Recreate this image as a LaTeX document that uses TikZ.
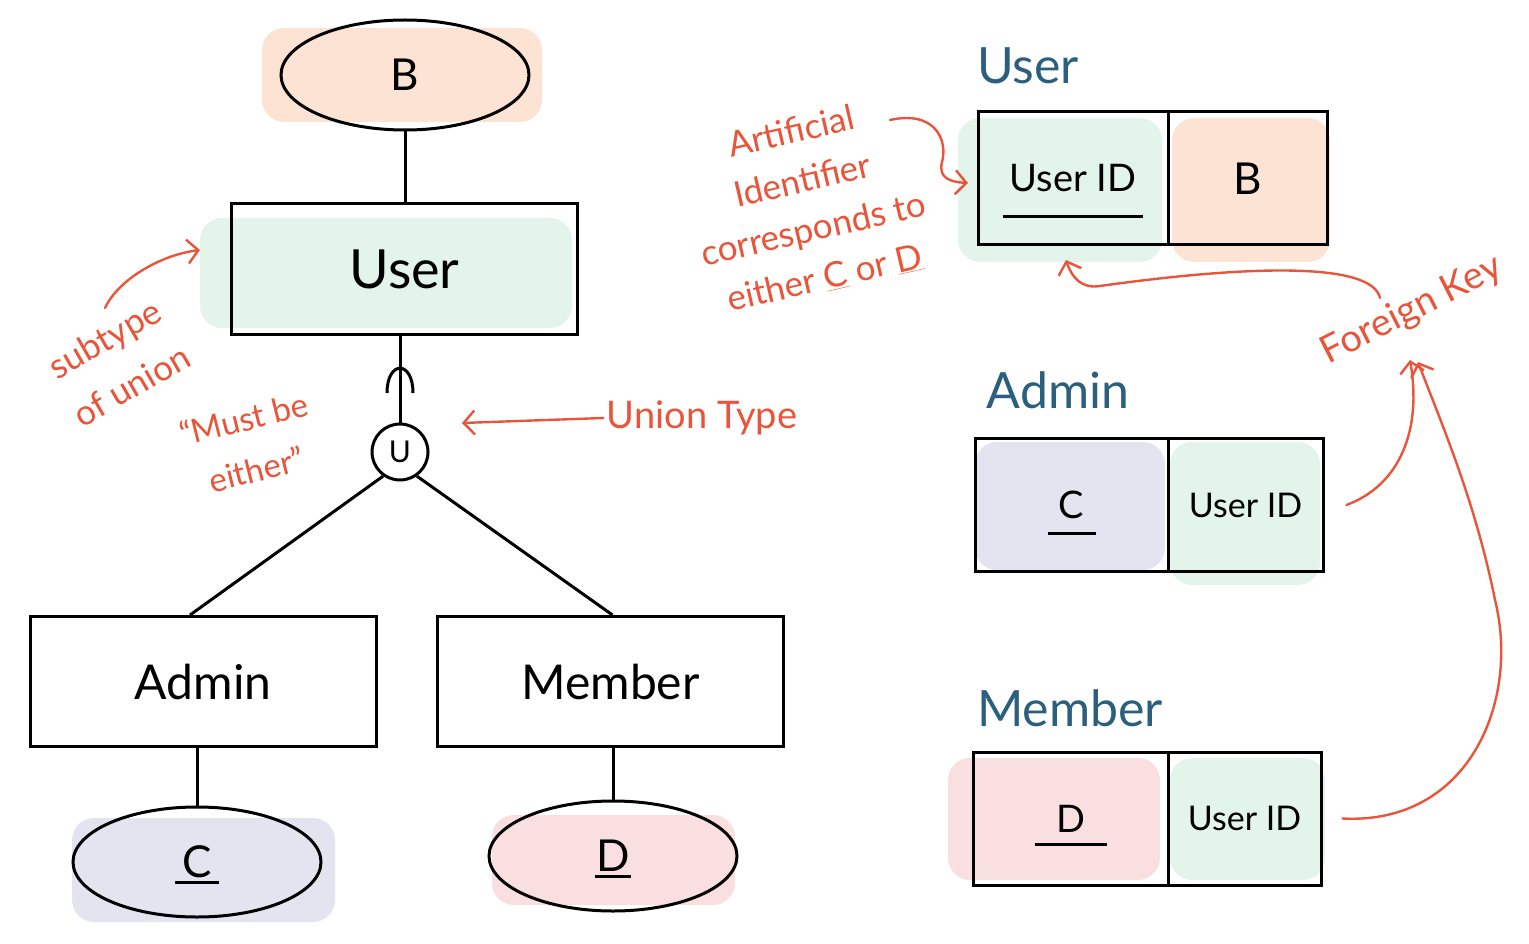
\documentclass[tikz,border=0pt]{standalone}
\usepackage{fontspec}
\setmainfont{Lato}
\usetikzlibrary{arrows.meta,positioning,shapes.geometric}
\definecolor{ink}{HTML}{E8553A}
\definecolor{title}{HTML}{2B5F7E}
\definecolor{mint}{HTML}{E3F5EA}
\definecolor{peach}{HTML}{FDE3D3}
\definecolor{lilac}{HTML}{E4E4F1}
\definecolor{rose}{HTML}{F9DFDF}
\begin{document}
\begin{tikzpicture}[x=1pt,y=-1pt,
    link/.style={line width=3pt},
    entity/.style={draw,link,minimum width=346pt,minimum height=130pt,font=\fontsize{48}{52}\selectfont},
    attr/.style={draw,ellipse,link,minimum width=248pt,minimum height=110pt,font=\fontsize{44}{50}\selectfont},
    cell/.style={draw,link,minimum height=133pt,inner sep=0pt,font=\fontsize{38}{44}\selectfont},
    tname/.style={text=title,font=\fontsize{50}{56}\selectfont},
    note/.style={text=ink,font=\fontsize{33}{52}\selectfont,align=center},
    hand/.style={ink,line width=2.4pt,line cap=round,-{Straight Barb[length=11pt,width=24pt,line width=2.4pt]}},
    smudge/.style={rounded corners=22pt}]
  \useasboundingbox (0,0) rectangle (1529,944);

  % soft colour behind the shapes
  \fill[peach,smudge] (262,28) rectangle (542,122);
  \fill[mint,smudge] (200,218) rectangle (572,328);
  \fill[lilac,smudge] (72,818) rectangle (335,922);
  \fill[rose,smudge] (492,815) rectangle (735,905);
  \fill[mint,smudge] (958,118) rectangle (1162,262);
  \fill[peach,smudge] (1172,118) rectangle (1330,262);
  \fill[lilac,smudge] (975,442) rectangle (1165,570);
  \fill[mint,smudge] (1170,442) rectangle (1320,585);
  \fill[rose,smudge] (948,758) rectangle (1160,880);
  \fill[mint,smudge] (1170,758) rectangle (1325,880);

  % ER side
  \node[attr] (b) at (405,75) {B};
  \node[entity,font=\fontsize{54}{58}\selectfont] (user) at (404.5,269) {User};
  \node[draw,circle,link,minimum size=56pt,inner sep=0pt,font=\fontsize{30}{34}\selectfont] (un) at (400,452) {U};
  \node[entity] (admin) at (203,681.5) {Admin};
  \node[entity] (member) at (610.5,681.5) {Member};
  \node[attr] (c) at (197,862) {C};
  \node[attr] (d) at (613,856) {D};
  \draw[link] ([shift={(-22,20)}]c.center) -- ([shift={(22,20)}]c.center);
  \draw[link] ([shift={(-18,20)}]d.center) -- ([shift={(18,20)}]d.center);

  \draw[link] (b.south) -- (b.south |- user.north);
  \draw[link] (un.north |- user.south) -- (un.north);
  \draw[link] (387,393) .. controls (387,360) and (413,360) .. (413,393);
  \draw[link] (un.235) -- ([xshift=-13pt]admin.north);
  \draw[link] (un.305) -- ([xshift=2pt]member.north);
  \draw[link] (c.north |- admin.south) -- (c.north);
  \draw[link] (d.north |- member.south) -- (d.north);

  % notes on the ER side
  \node[note,rotate=30,font=\fontsize{35}{54}\selectfont] (sub) at (118,362) {subtype\\of union};
  \coordinate (subend) at (200,250);
  \draw[hand] (105,308) .. controls (118,280) and (160,255) .. (subend);
  \node[note,rotate=14] (must) at (250,444) {“Must be\\either”};
  \node[note,font=\fontsize{38}{42}\selectfont] (utype) at (702,418) {Union Type};
  \coordinate (utend) at (462,423);
  \draw[hand] (utype.west) -- (utend);

  % tables
  \node[tname] (tuser) at (1028,66) {User};
  \node[cell,minimum width=190pt] (uid) at (1073,178.5) {User ID};
  \node[cell,minimum width=159pt,font=\fontsize{44}{50}\selectfont] (ub) at (1247.5,178.5) {B};
  \draw[link] ([shift={(-70,38)}]uid.center) -- ([shift={(70,38)}]uid.center);

  \node[tname] (tadmin) at (1058,390) {Admin};
  \node[cell,minimum width=193pt] (ac) at (1071.5,505) {C};
  \node[cell,minimum width=155pt,font=\fontsize{34}{40}\selectfont] (aid) at (1245.5,505) {User ID};
  \draw[link] ([shift={(-24,28)}]ac.center) -- ([shift={(24,28)}]ac.center);

  \node[tname] (tmember) at (1070,708) {Member};
  \node[cell,minimum width=195pt] (md) at (1070.5,818.5) {D};
  \node[cell,minimum width=153pt,font=\fontsize{34}{40}\selectfont] (mid) at (1244.5,818.5) {User ID};
  \draw[link] ([shift={(-36,26)}]md.center) -- ([shift={(36,26)}]md.center);

  % notes on the table side
  \node[note,rotate=13,font=\fontsize{35}{50}\selectfont] (art) at (808,205) {Artificial\\Identifier\\corresponds to\\either \underline{C} or \underline{D}};
  \coordinate (artstart) at (890,120);
  \coordinate (artend) at (968,183);
  \draw[hand] (artstart) .. controls (935,110) and (948,140) .. (942,162) .. controls (938,178) and (950,182) .. (artend);

  \node[note,rotate=27,font=\fontsize{38}{44}\selectfont] (fk) at (1412,310) {Foreign Key};
  \coordinate (fkend) at (1066,260);
  \coordinate (fktip) at (1410,360);
  \draw[hand] (1380,298) .. controls (1372,262) and (1250,265) .. (1100,286) .. controls (1082,289) and (1072,278) .. (fkend);
  \draw[hand] ([xshift=22pt]aid.east) .. controls (1400,485) and (1422,430) .. (fktip);
  \draw[hand] ([xshift=20pt]mid.east) .. controls (1470,825) and (1520,700) .. (1495,600) .. controls (1475,500) and (1440,420) .. (1418,362);
\end{tikzpicture}
\end{document}
